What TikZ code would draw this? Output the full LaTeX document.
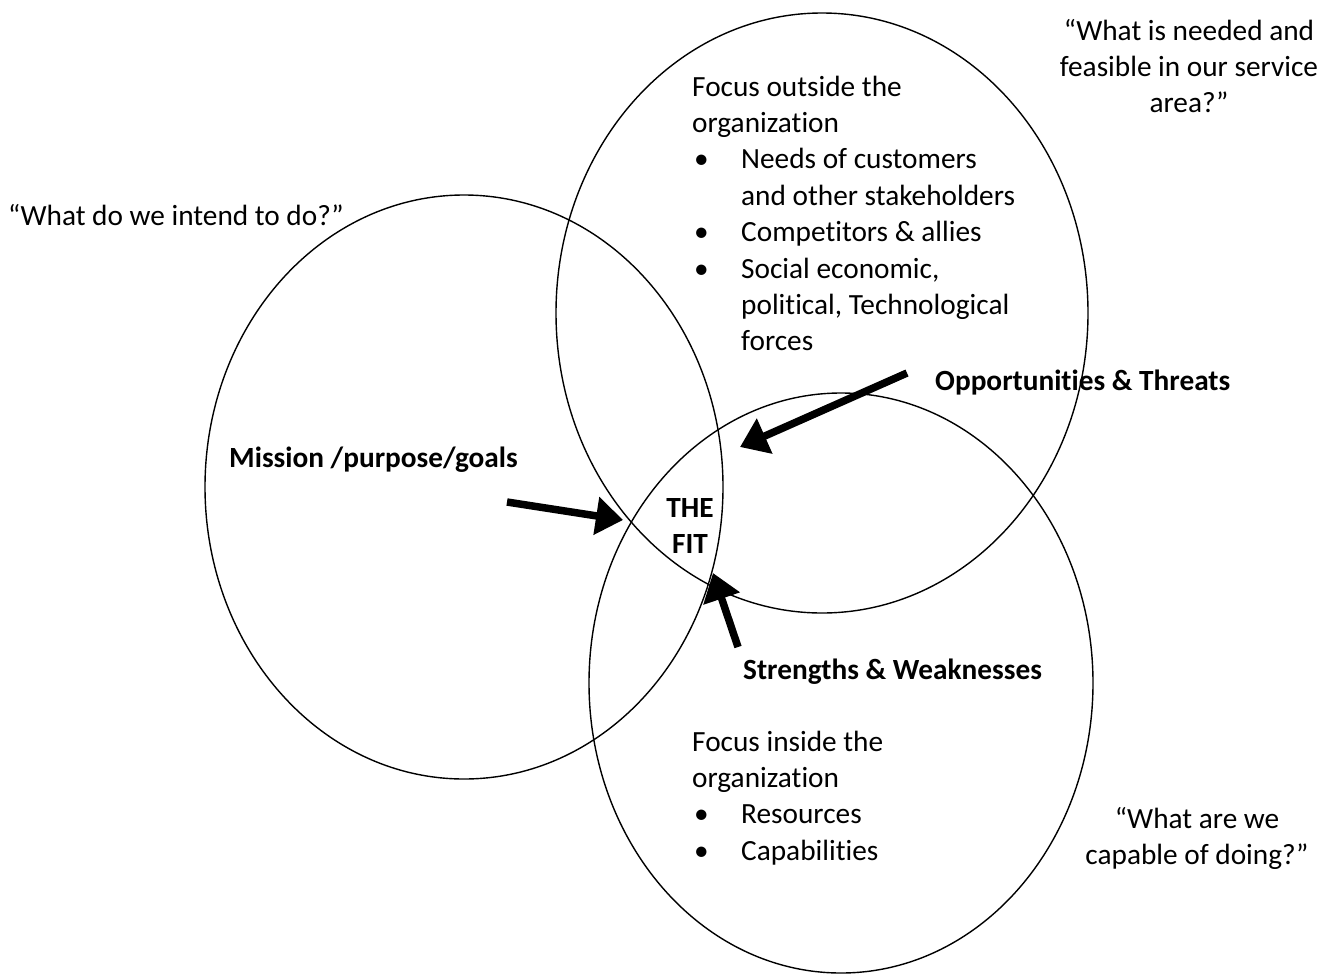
\documentclass[tikz,border=0pt]{standalone}
\usepackage{fontspec}
\setmainfont{Carlito}[Ligatures=NoCommon]
\usetikzlibrary{arrows.meta}
\newcommand{\fitbullet}{\hspace*{2pt}\textbullet}

\begin{document}
\begin{tikzpicture}[x=1pt,y=-1pt,
  txt/.style={inner sep=0pt,font=\fontsize{29.3}{36.4}\selectfont},
  boldtxt/.style={inner sep=0pt,font=\fontsize{29.3}{36.4}\selectfont\bfseries},
  ring/.style={line width=1.4pt},
  fitarrow/.style={line width=7.5pt,-{Triangle[length=27pt,width=37pt]}}]
\useasboundingbox (0,0) rectangle (1333,975);
\draw[ring] (464,487) ellipse [x radius=259,y radius=292];
\draw[ring] (822,313) ellipse [x radius=266,y radius=300];
\draw[ring] (841,683) ellipse [x radius=252,y radius=290];
\node[txt,anchor=base west] (intend) at (8,225) {“What do we intend to do?”};
\node[txt,anchor=base] (needed) at (1189,40) {\begin{tabular}[t]{@{}c@{}}“What is needed and\\feasible in our service\\area?”\end{tabular}};
\node[txt,anchor=base west] (outside) at (692,96) {\begin{tabular}[t]{@{}p{49pt}@{}l@{}}
\multicolumn{2}{@{}l@{}}{Focus outside the}\\
\multicolumn{2}{@{}l@{}}{organization}\\
\fitbullet & Needs of customers\\
 & and other stakeholders\\
\fitbullet & Competitors \& allies\\
\fitbullet & Social economic,\\
 & political, Technological\\
 & forces
\end{tabular}};
\node[boldtxt,anchor=base west] (opp) at (935,390) {Opportunities \& Threats};
\node[boldtxt,anchor=base west] (mission) at (229,467) {Mission /purpose/goals};
\node[boldtxt,anchor=base] (fit) at (690,517) {\begin{tabular}[t]{@{}c@{}}THE\\FIT\end{tabular}};
\node[boldtxt,anchor=base west] (strengths) at (743,679) {Strengths \& Weaknesses};
\node[txt,anchor=base west] (inside) at (692,751) {\begin{tabular}[t]{@{}p{49pt}@{}l@{}}
\multicolumn{2}{@{}l@{}}{Focus inside the}\\
\multicolumn{2}{@{}l@{}}{organization}\\
\fitbullet & Resources\\
\fitbullet & Capabilities
\end{tabular}};
\node[txt,anchor=base] (capable) at (1197,828) {\begin{tabular}[t]{@{}c@{}}“What are we\\capable of doing?”\end{tabular}};
\coordinate (opp tail) at (907,373);
\coordinate (opp tip) at (740,447);
\coordinate (mission tail) at (507,502);
\coordinate (mission tip) at (623,520);
\coordinate (strengths tail) at (738,647);
\coordinate (strengths tip) at (713,573);
\draw[fitarrow] (opp tail) -- (opp tip);
\draw[fitarrow] (mission tail) -- (mission tip);
\draw[fitarrow] (strengths tail) -- (strengths tip);
\end{tikzpicture}
\end{document}
